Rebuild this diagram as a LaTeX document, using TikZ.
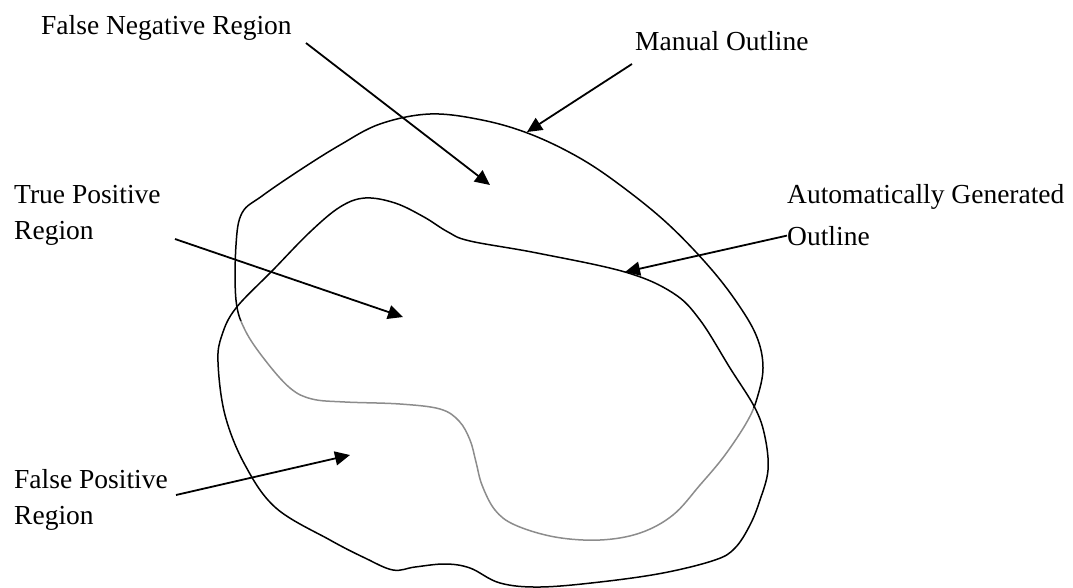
\documentclass[tikz,border=0pt]{standalone}
\usepackage{fontspec}
\setmainfont{Liberation Serif}
\usetikzlibrary{arrows.meta}
\begin{document}
\begin{tikzpicture}[x=1pt,y=-1pt,
  lbl/.style={anchor=base west,inner sep=0pt,font=\fontsize{27.5}{33}\selectfont},
  pointer/.style={line width=1.8pt,-{Triangle[length=15pt,width=14pt]}},
  contour/.style={line width=1.5pt,line join=round},
]
\useasboundingbox (0,0) rectangle (1073,587);

% manual outline: dark upper part, light lower part
\def\manualpath{plot[smooth cycle,tension=0.6] coordinates {
  (236,300) (236,245) (242,213) (262,196) (300,170) (340,145) (380,124)
  (430,114) (482,120) (530,134) (578,157) (620,185) (668,224) (712,270)
  (742,310) (758,340) (763,368) (758,395) (748,420) (725,455) (700,485)
  (673,515) (640,533) (600,540) (555,537) (515,525) (495,510) (482,485)
  (476,462) (470,440) (459,421) (440,409) (400,404) (345,402) (312,399)
  (290,388) (265,360) (245,330)}}
\begin{scope}
  \clip (0,0) -- (1073,0) -- (1073,462) -- (0,280) -- cycle;
  \draw[contour,black] \manualpath;
\end{scope}
\begin{scope}
  \clip (0,587) -- (1073,587) -- (1073,462) -- (0,280) -- cycle;
  \draw[contour,black!45] \manualpath;
\end{scope}

% automatically generated outline
\draw[contour,black] plot[smooth cycle,tension=0.6] coordinates {
  (365,198) (395,203) (424,217) (448,232) (470,241) (537,253) (625,272)
  (673,293) (700,320) (730,368) (755,408) (765,437) (768,470) (760,500)
  (750,525) (735,548) (715,560) (663,573) (600,582) (540,587) (500,583)
  (470,568) (445,564) (415,567) (393,570) (365,558) (330,540) (276,508)
  (245,465) (225,415) (218,362) (222,335) (236,308) (273,270) (310,232)
  (340,207)};

% labels
\node[lbl] (fn)  at (41,34)  {False Negative Region};
\node[lbl] (mo)  at (635,50) {Manual Outline};
\node[lbl] (ag1) at (787,203) {Automatically Generated};
\node[lbl] (ag2) at (787,245) {Outline};
\node[lbl] (tp1) at (14,203) {True Positive};
\node[lbl] (tp2) at (14,239) {Region};
\node[lbl] (fp1) at (14,488) {False Positive};
\node[lbl] (fp2) at (14,524) {Region};

% pointer ends
\coordinate (fnS) at (306,43);   \coordinate (fnT) at (490,185);
\coordinate (moS) at (632,64);   \coordinate (moT) at (527,132);
\coordinate (agT) at (625,272);
\coordinate (tpS) at (175,239);  \coordinate (tpT) at (403,317);
\coordinate (fpS) at (176,495);  \coordinate (fpT) at (350,455);

\draw[pointer] (fnS) -- (fnT);
\draw[pointer] (moS) -- (moT);
\draw[pointer] (ag2.west) -- (agT);
\draw[pointer] (tpS) -- (tpT);
\draw[pointer] (fpS) -- (fpT);
\end{tikzpicture}
\end{document}
